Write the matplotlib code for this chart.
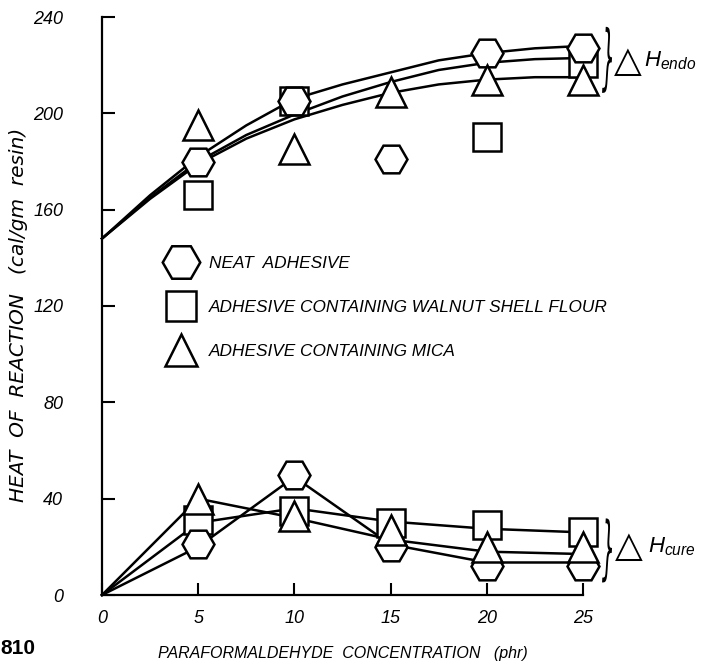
import matplotlib
matplotlib.use("Agg")
import matplotlib.pyplot as plt
import matplotlib.transforms as mtransforms
from matplotlib.lines import Line2D
from matplotlib.textpath import TextPath
from matplotlib.patches import PathPatch
from matplotlib.font_manager import FontProperties

plt.rcParams['font.family'] = ['Liberation Sans', 'DejaVu Sans']
plt.rcParams['font.style'] = 'italic'
plt.rcParams['mathtext.fontset'] = 'custom'
plt.rcParams['mathtext.it'] = 'Liberation Sans:italic'
plt.rcParams['mathtext.rm'] = 'Liberation Sans:italic'

# ---- data ----
conc = [5, 10, 15, 20, 25]

# heat of endothermic reaction (upper group)
endo_neat = [180, 205, 181, 225, 227]
endo_walnut = [166, 205, None, 190, 221]
endo_mica = [195, 185, 209, 214, 214]

# fitted curves for the upper group
fit_x = [0, 2.5, 5, 7.5, 10, 12.5, 15, 17.5, 20, 22.5, 25]
fit_neat = [148, 166, 182, 195, 206, 212, 217, 222, 225, 227, 228]
fit_walnut = [148, 165, 180, 191, 199.5, 207, 213, 218, 221, 222.5, 223]
fit_mica = [148, 164.5, 179, 189.5, 197.5, 203.5, 208.5, 212, 214, 215, 215]

# heat of cure (lower group)
cure_neat = [21, 50, 20, 12, 12]
cure_walnut = [31, 35, 30, 29, 26]
cure_mica = [40, 33, 27, 20, 20]

cure_x = [0, 5, 10, 15, 20, 25]
cure_line_neat = [0, 20, 49, 21, 13.5, 13.5]
cure_line_walnut = [0, 30, 36, 30.5, 27.5, 26]
cure_line_mica = [0, 40, 32, 23, 18, 17]

x_ticks = [0, 5, 10, 15, 20, 25]
x_ticklabels = ['0', '5', '10', '15', '20', '25']
y_ticks = [0, 40, 80, 120, 160, 200, 240]
y_ticklabels = ['0', '40', '80', '120', '160', '200', '240']

labels = ['NEAT  ADHESIVE',
          'ADHESIVE CONTAINING WALNUT SHELL FLOUR',
          'ADHESIVE CONTAINING MICA']

# ---- figure ----
fig = plt.figure(figsize=(7.04, 6.66), dpi=100)
ax = fig.add_axes([102 / 704, 1 - 595 / 666, 481 / 704, 578 / 666])

lw = 1.8
for fy in (fit_neat, fit_walnut, fit_mica):
    ax.plot(fit_x, fy, color='black', lw=lw, zorder=2, clip_on=False)
for cy in (cure_line_neat, cure_line_walnut, cure_line_mica):
    ax.plot(cure_x, cy, color='black', lw=lw, zorder=2, clip_on=False)

mk = dict(ls='none', mfc='white', mec='black', mew=1.8, clip_on=False)
def clean(xs, ys):
    px = [x for x, y in zip(xs, ys) if y is not None]
    py = [y for y in ys if y is not None]
    return px, py

for ys in (endo_walnut, cure_walnut):
    ax.plot(*clean(conc, ys), marker='s', ms=20, zorder=3, **mk)
for ys in (endo_neat, cure_neat):
    ax.plot(*clean(conc, ys), marker='H', ms=23, zorder=4, **mk)
for ys in (endo_mica, cure_mica):
    ax.plot(*clean(conc, ys), marker='^', ms=21, zorder=5, **mk)

ax.set_xlim(0, 25)
ax.set_ylim(0, 240)
for s in ('top', 'right'):
    ax.spines[s].set_visible(False)
for s in ('left', 'bottom'):
    ax.spines[s].set_linewidth(1.6)

ax.set_xticks(x_ticks)
ax.set_xticklabels(x_ticklabels, fontsize=13)
ax.set_yticks(y_ticks)
ax.set_yticklabels(y_ticklabels, fontsize=13)
ax.tick_params(axis='y', direction='in', length=9.5, width=1.5, pad=28)
ax.tick_params(axis='x', direction='in', length=9, width=1.5, pad=11)

ax.set_xlabel('PARAFORMALDEHYDE  CONCENTRATION   (phr)', fontsize=11.5)
ax.xaxis.set_label_coords(0.50, -0.088)
ax.set_ylabel('HEAT  OF  REACTION   (cal/gm  resin)', fontsize=14.5,
              family=['DejaVu Sans'])
ax.yaxis.set_label_coords(-0.154, 0.485)

# legend
handles = [
    Line2D([], [], marker='H', ms=27, ls='none', mfc='white', mec='black', mew=1.8),
    Line2D([], [], marker='s', ms=21, ls='none', mfc='white', mec='black', mew=1.8),
    Line2D([], [], marker='^', ms=23, ls='none', mfc='white', mec='black', mew=1.8),
]
leg = ax.legend(handles, labels, loc='upper left',
                bbox_to_anchor=(164 / 704, 1 - 256 / 666),
                bbox_transform=fig.transFigure, frameon=False, fontsize=12.4,
                handlelength=2.0, handletextpad=0.6, labelspacing=1.68,
                borderpad=0, borderaxespad=0)


# thin curly braces (stretched glyph outline)
def brace(xc, yc, width_px, height_px):
    tp = TextPath((0, 0), '}', size=20, prop=FontProperties(family='DejaVu Sans'))
    bb = tp.get_extents()
    tr = (mtransforms.Affine2D()
          .translate(-(bb.x0 + bb.x1) / 2, -(bb.y0 + bb.y1) / 2)
          .scale(width_px / bb.width, height_px / bb.height)
          + mtransforms.ScaledTranslation(xc, yc, ax.transData))
    ax.add_artist(PathPatch(tp, transform=tr, facecolor='black', lw=0,
                            clip_on=False, zorder=6))

brace(26.25, 222.2, 10, 66)
brace(26.25, 18.5, 10, 64)

ax.text(27.35, 221.5, '\u25B3', fontsize=26, ha='center', va='center',
        family='DejaVu Sans', style='normal', clip_on=False)
ax.text(28.15, 222, r'$H_{endo}$', fontsize=16, ha='left', va='center', clip_on=False)

ax.text(27.4, 20, '\u25B3', fontsize=26, ha='center', va='center',
        family='DejaVu Sans', style='normal', clip_on=False)
ax.text(28.4, 20, r'$H_{cure}$', fontsize=16, ha='left', va='center', clip_on=False)

fig.text(0.0, 1 - 648 / 666, '810', fontsize=15, fontweight='bold', style='normal',
         ha='left', va='center')

fig.savefig('out.png', dpi=100)
